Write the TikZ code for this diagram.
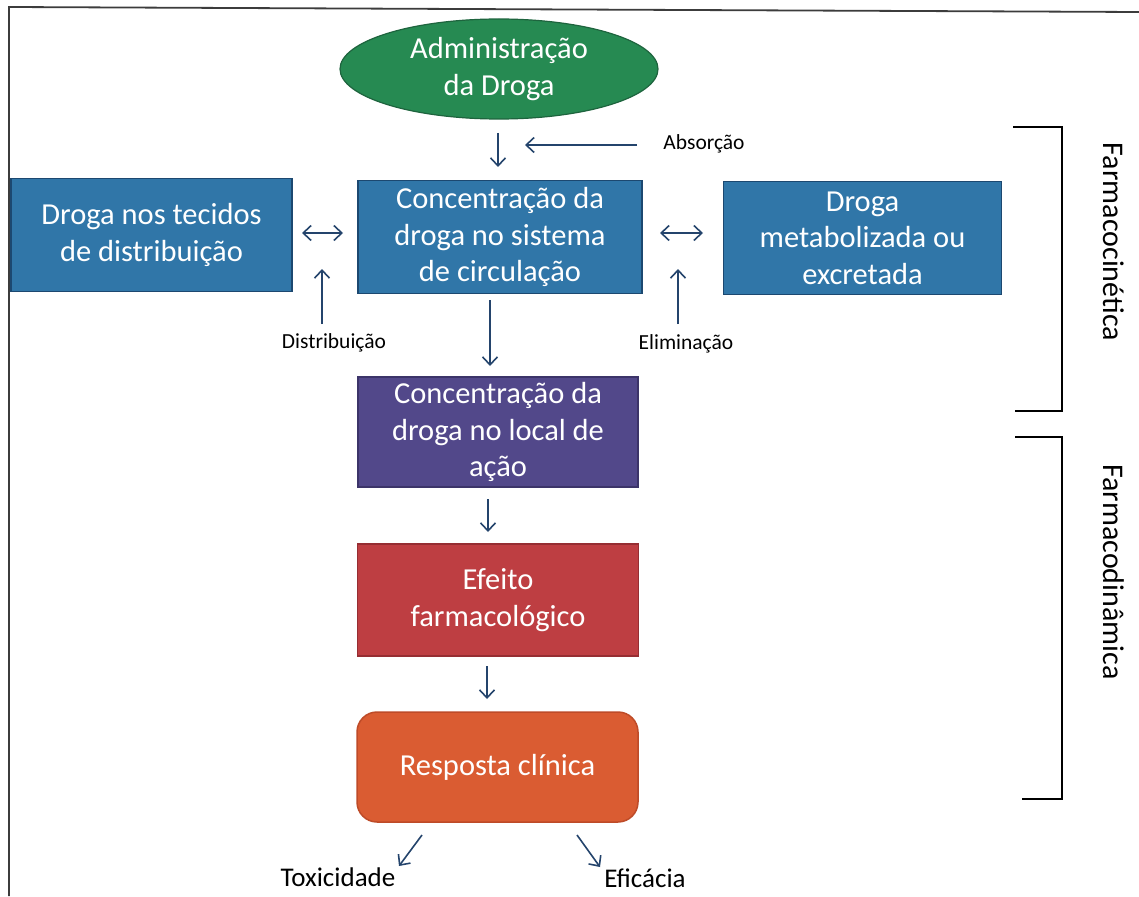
\documentclass[tikz,border=0pt]{standalone}
\usepackage{fontspec}
\setmainfont{Carlito}
\usetikzlibrary{shapes.geometric,arrows.meta}

\definecolor{frameline}{RGB}{60,60,60}
\definecolor{steel}{RGB}{48,118,168}
\definecolor{steeledge}{RGB}{28,72,112}
\definecolor{leaf}{RGB}{38,138,82}
\definecolor{leafedge}{RGB}{30,100,62}
\definecolor{violet}{RGB}{82,72,138}
\definecolor{violetedge}{RGB}{60,52,105}
\definecolor{brick}{RGB}{190,62,66}
\definecolor{brickedge}{RGB}{150,45,50}
\definecolor{flame}{RGB}{218,92,50}
\definecolor{flameedge}{RGB}{190,75,40}
\definecolor{navy}{RGB}{36,68,108}

\tikzset{
  box/.style={draw, line width=1.5pt, inner sep=0pt, align=center, text=white,
    font=\fontsize{30.5}{36.6}\selectfont},
  bluebox/.style={box, fill=steel, draw=steeledge, minimum width=281pt, minimum height=113pt},
  lbl/.style={inner sep=0pt, text=black, font=\fontsize{21.5}{25}\selectfont},
  outcome/.style={inner sep=0pt, text=black, font=\fontsize{27}{32}\selectfont},
  side/.style={inner sep=0pt, text=black, rotate=-90, font=\fontsize{30}{36}\selectfont},
  arr/.style={draw=navy, line width=1.6pt, -{Straight Barb[length=8pt,width=15pt,line width=1.6pt]}},
  dbl/.style={draw=navy, line width=1.6pt, {Straight Barb[length=8pt,width=15pt,line width=1.6pt]}-{Straight Barb[length=8pt,width=15pt,line width=1.6pt]}},
  bracket/.style={draw=black, line width=2.2pt}
}

\begin{document}
\begin{tikzpicture}[x=1pt,y=-1pt]
\useasboundingbox (0,0) rectangle (1139,896);
\fill[white] (0,0) rectangle (1139,896);

% outer frame (top and left edges)
\draw[frameline, line width=1.8pt] (9,896) -- (9,7) -- (1139,12);

% flow nodes
\node[ellipse, fill=leaf, draw=leafedge, line width=1.2pt, inner sep=0pt,
  minimum width=318pt, minimum height=100pt, align=center, text=white,
  font=\fontsize{30.5}{37}\selectfont] (admin) at (499,69) {Administração\\da Droga};

\node[bluebox, minimum width=284pt] (circ) at (500,237) {Concentração da\\droga no sistema\\de circulação};
\node[bluebox] (tecidos) at (151.5,235) {Droga nos tecidos\\de distribuição};
\node[bluebox, minimum width=278pt] (metab) at (862.5,238) {Droga\\metabolizada ou\\excretada};

\node[box, fill=violet, draw=violetedge, minimum width=280pt, minimum height=110pt] (local) at (498,432)
  {Concentração da\\droga no local de\\ação};
\node[box, fill=brick, draw=brickedge, minimum width=281pt, minimum height=112pt] (efeito) at (498,600)
  {Efeito\\farmacológico};
\node[box, fill=flame, draw=flameedge, rounded corners=20pt, minimum width=281pt, minimum height=110pt] (resposta) at (497.5,767)
  {Resposta clínica};

% process labels
\node[lbl] (absorcao) at (704,144) {Absorção};
\node[lbl] (distrib) at (334,343) {Distribuição};
\node[lbl] (elimin) at (686,344) {Eliminação};
\node[outcome] (toxi) at (338,877) {Toxicidade};
\node[outcome] (efic) at (645,878) {Eficácia};

% arrow end points
\coordinate (a1s) at (498,133);
\coordinate (a1e) at (498,167);
\coordinate (abs) at (637,145);
\coordinate (abe) at (525,145);
\coordinate (dl1) at (302,233);
\coordinate (dl2) at (343,233);
\coordinate (dr1) at (660,233);
\coordinate (dr2) at (703,233);
\coordinate (dis) at (322,324);
\coordinate (die) at (322,269);
\coordinate (els) at (678,324);
\coordinate (ele) at (678,269);
\coordinate (c1s) at (490,300);
\coordinate (c1e) at (490,366);
\coordinate (c2s) at (488,499);
\coordinate (c2e) at (488,532);
\coordinate (c3s) at (487,666);
\coordinate (c3e) at (487,699);
\coordinate (tks) at (422,835);
\coordinate (tke) at (399,866);
\coordinate (efs) at (577,835);
\coordinate (efe) at (600,867);

\draw[arr] (a1s) -- (a1e);
\draw[arr] (abs) -- (abe);
\draw[dbl] (dl1) -- (dl2);
\draw[dbl] (dr1) -- (dr2);
\draw[arr] (dis) -- (die);
\draw[arr] (els) -- (ele);
\draw[arr] (c1s) -- (c1e);
\draw[arr] (c2s) -- (c2e);
\draw[arr] (c3s) -- (c3e);
\draw[arr] (tks) -- (tke);
\draw[arr] (efs) -- (efe);

% phase brackets
\draw[bracket] (1013,127) -- (1062,127) -- (1062,411) -- (1015,411);
\draw[bracket] (1015,437) -- (1062,437) -- (1062,799) -- (1022,799);
\node[side] (pk) at (1114,242) {Farmacocinética};
\node[side] (pd) at (1114,572) {Farmacodinâmica};
\end{tikzpicture}
\end{document}
